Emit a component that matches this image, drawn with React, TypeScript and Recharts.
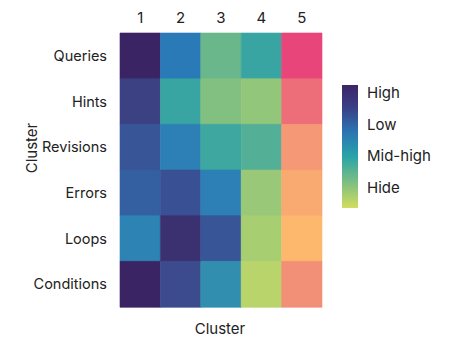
import { BarChart, Bar, XAxis, YAxis, Cell } from 'recharts';

// rows top to bottom, columns left to right
const rows = ['Queries', 'Hints', 'Revisions', 'Errors', 'Loops', 'Conditions'];
const clusters = ['1', '2', '3', '4', '5'];

// cell intensity, 0 = dark purple ... 1 = pink-red
const queries = [0.0, 0.25, 0.51, 0.4, 1.0];
const hints = [0.09, 0.4, 0.56, 0.59, 0.93];
const revisions = [0.15, 0.27, 0.41, 0.46, 0.85];
const errors = [0.18, 0.14, 0.27, 0.6, 0.81];
const loops = [0.28, 0.04, 0.15, 0.63, 0.78];
const conditions = [0.0, 0.12, 0.32, 0.66, 0.87];

const legendLabels = ['High', 'Low', 'Mid-high', 'Hide'];

const values = [queries, hints, revisions, errors, loops, conditions];

const stops: [number, string][] = [
  [0.0, '#3b2463'],
  [0.12, '#3c4a8e'],
  [0.25, '#2a7ab8'],
  [0.4, '#38a5a2'],
  [0.55, '#7cbe84'],
  [0.68, '#c4d866'],
  [0.78, '#fdb86e'],
  [0.88, '#f08a78'],
  [1.0, '#e8457a'],
];

const hex = (h: string) => [1, 3, 5].map(i => parseInt(h.slice(i, i + 2), 16));

function colorFor(v: number) {
  for (let i = 1; i < stops.length; i++) {
    const [p1, c1] = stops[i];
    const [p0, c0] = stops[i - 1];
    if (v <= p1) {
      const t = (v - p0) / (p1 - p0 || 1);
      const a = hex(c0);
      const b = hex(c1);
      return `rgb(${a.map((x, k) => Math.round(x + (b[k] - x) * t)).join(',')})`;
    }
  }
  return stops[stops.length - 1][1];
}

const data = rows.map(name => {
  const row: Record<string, string | number> = { name };
  clusters.forEach((_, j) => (row[`c${j}`] = 1));
  return row;
});

const font = 'Inter, "Liberation Sans", sans-serif';

function GradientLegend() {
  return (
    <div style={{ position: 'absolute', left: 342, top: 85, display: 'flex', fontFamily: font }}>
      <svg width={16} height={123}>
        <defs>
          <linearGradient id="lg" x1="0" y1="0" x2="0" y2="1">
            <stop offset="0%" stopColor="#3b2566" />
            <stop offset="18%" stopColor="#3a3f85" />
            <stop offset="38%" stopColor="#2a74b3" />
            <stop offset="58%" stopColor="#2aa3a8" />
            <stop offset="80%" stopColor="#80c080" />
            <stop offset="100%" stopColor="#d4dc60" />
          </linearGradient>
        </defs>
        <rect x={0} y={0} width={16} height={123} fill="url(#lg)" />
      </svg>
      <div style={{ marginLeft: 9, marginTop: -2 }}>
        {legendLabels.map(l => (
          <div key={l} style={{ fontSize: 15, color: '#222', height: 31.5, lineHeight: '20px' }}>
            {l}
          </div>
        ))}
      </div>
    </div>
  );
}

export default function App() {
  return (
    <div style={{ position: 'absolute', left: 0, top: 0, width: 450, height: 339, background: '#fff' }}>
      <BarChart
        width={450}
        height={339}
        data={data}
        layout="vertical"
        barCategoryGap={0}
        margin={{ top: 3, right: 128, bottom: 32, left: 0 }}
        style={{ fontFamily: font }}
      >
        <XAxis
          type="number"
          orientation="top"
          domain={[0, 5]}
          ticks={[0.5, 1.5, 2.5, 3.5, 4.5]}
          tickFormatter={v => clusters[Math.floor(v)]}
          axisLine={false}
          tickLine={false}
          tickMargin={4}
          height={30}
          tick={{ fontSize: 15, fill: '#222' }}
        />
        <YAxis
          type="category"
          dataKey="name"
          width={120}
          axisLine={false}
          tickLine={false}
          tickMargin={7}
          tick={{ fontSize: 14.5, fill: '#222' }}
        />
        {clusters.map((c, j) => (
          <Bar key={c} dataKey={`c${j}`} stackId="a" isAnimationActive={false}>
            {rows.map((r, i) => {
              const fill = colorFor(values[i][j]);
              return <Cell key={r} fill={fill} stroke={fill} strokeWidth={0.6} />;
            })}
          </Bar>
        ))}
      </BarChart>
      <GradientLegend />
      <div
        style={{
          position: 'absolute',
          left: 31,
          top: 148,
          transform: 'translate(-50%, -50%) rotate(-90deg)',
          fontFamily: font,
          fontSize: 15,
          color: '#222',
        }}
      >
        Cluster
      </div>
      <div
        style={{
          position: 'absolute',
          left: 220,
          top: 328,
          transform: 'translate(-50%, -50%)',
          fontFamily: font,
          fontSize: 15,
          color: '#222',
        }}
      >
        Cluster
      </div>
    </div>
  );
}
